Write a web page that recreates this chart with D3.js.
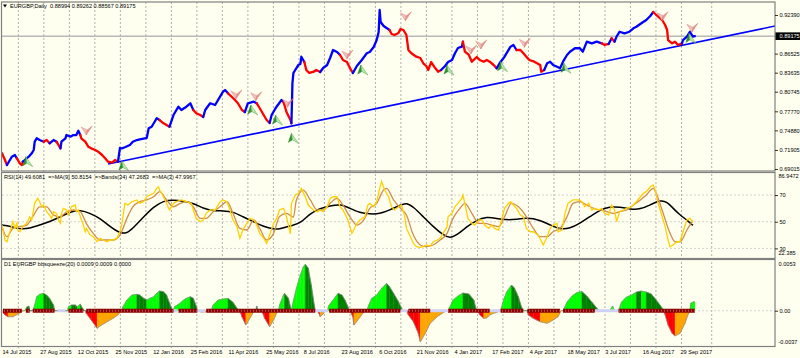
<!DOCTYPE html>
<html><head><meta charset="utf-8">
<script src="https://cdn.jsdelivr.net/npm/d3@7"></script>
<style>
body{margin:0;background:#fffff0;}
svg{display:block;}
text{font-family:"Liberation Sans",Arial,sans-serif;white-space:pre;}
</style></head>
<body><svg id="c" width="800" height="358"></svg>
<script>
// ---------------- DATA ----------------
const symbolTitle = "EURGBP,Daily  0.88994 0.89262 0.88567 0.89175";
const rsiTitle = "RSI(14) 49.6081  =>MA(9) 50.8154  =>Bands(34) 47.2683  =>MA(3) 47.9967";
const sqTitle = "D1 EURGBP bbsqueeze(20) 0.0009 0.0009 0.0000";
const dateLabels = ["14 Jul 2015","27 Aug 2015","12 Oct 2015","25 Nov 2015","12 Jan 2016","25 Feb 2016","11 Apr 2016","25 May 2016","8 Jul 2016","23 Aug 2016","6 Oct 2016","21 Nov 2016","4 Jan 2017","17 Feb 2017","4 Apr 2017","18 May 2017","3 Jul 2017","16 Aug 2017","29 Sep 2017"];
const barsPerLabel = 38;
const priceTicks = [0.92390,0.86525,0.83635,0.80745,0.77770,0.74880,0.71905,0.69015];
const lastPrice = 0.89175;
const rsiTicks = [70,50,30];
const rsiRange = [22.385,86.9472];
const sqRange = [-0.0037,0.0053];

// [bar, close, trend colour]
const priceSeries = [[0,.7140,'r'],[3,.7038,'r'],[5,.6962,'r'],[8,.7038,'b'],[10,.7088,'b'],[13,.7114,'b'],[15,.7064,'b'],[16,.7038,'r'],[18,.6988,'r'],[20,.6962,'r'],[21,.7012,'r'],[23,.7038,'b'],[27,.7088,'b'],[30,.7140,'b'],[32,.7190,'b'],[33,.7316,'b'],[35,.7367,'b'],[38,.7341,'b'],[42,.7316,'b'],[45,.7341,'r'],[48,.7291,'r'],[52,.7341,'b'],[55,.7316,'b'],[59,.7215,'r'],[60,.7316,'b'],[64,.7367,'b'],[65,.7417,'b'],[69,.7392,'b'],[72,.7417,'b'],[75,.7417,'b'],[77,.7483,'b'],[79,.7417,'b'],[80,.7367,'r'],[84,.7316,'r'],[87,.7240,'r'],[90,.7215,'r'],[94,.7190,'r'],[97,.7164,'r'],[101,.7114,'r'],[104,.7064,'r'],[107,.7012,'r'],[111,.6997,'r'],[114,.7038,'r'],[117,.7012,'r'],[119,.7220,'b'],[121,.7215,'b'],[124,.7231,'b'],[129,.7266,'b'],[132,.7316,'b'],[136,.7341,'b'],[139,.7352,'b'],[144,.7367,'b'],[146,.7372,'b'],[148,.7519,'b'],[151,.7543,'b'],[154,.7619,'b'],[156,.7671,'b'],[159,.7645,'b'],[163,.7595,'r'],[166,.7569,'r'],[169,.7543,'r'],[173,.7721,'b'],[178,.7847,'b'],[181,.7797,'b'],[186,.7847,'b'],[190,.7899,'b'],[193,.7797,'b'],[196,.7747,'r'],[200,.7721,'r'],[203,.7691,'r'],[205,.7797,'b'],[210,.7899,'b'],[215,.7873,'b'],[220,.7999,'b'],[223,.8075,'b'],[225,.8100,'b'],[228,.8050,'b'],[232,.7994,'r'],[235,.7949,'r'],[238,.7899,'r'],[242,.7797,'r'],[245,.7766,'r'],[248,.7899,'b'],[254,.7923,'b'],[257,.7899,'b'],[260,.7823,'r'],[264,.7721,'r'],[267,.7645,'r'],[270,.7600,'r'],[272,.7721,'b'],[277,.7847,'b'],[282,.7949,'b'],[284,.7918,'b'],[287,.7766,'r'],[291,.7645,'r'],[292,.7595,'r'],[293,.8202,'b'],[294,.8359,'b'],[297,.8434,'b'],[299,.8480,'b'],[301,.8495,'b'],[302,.8606,'b'],[305,.8525,'b'],[307,.8404,'r'],[310,.8359,'r'],[314,.8374,'r'],[317,.8404,'r'],[321,.8374,'r'],[324,.8434,'b'],[328,.8480,'b'],[331,.8586,'b'],[334,.8708,'b'],[338,.8677,'b'],[341,.8632,'b'],[344,.8556,'r'],[348,.8525,'r'],[351,.8434,'r'],[354,.8359,'r'],[358,.8465,'b'],[363,.8556,'b'],[368,.8658,'b'],[371,.8677,'b'],[375,.8753,'b'],[378,.8859,'b'],[380,.8981,'b'],[381,.9315,'b'],[382,.9133,'b'],[385,.9072,'b'],[388,.9042,'b'],[391,.9011,'b'],[393,.8951,'r'],[396,.8935,'r'],[400,.8966,'r'],[402,.9026,'r'],[405,.9011,'r'],[408,.8935,'r'],[410,.8708,'r'],[413,.8658,'r'],[418,.8606,'r'],[422,.8586,'r'],[425,.8506,'r'],[428,.8465,'r'],[430,.8404,'r'],[433,.8525,'r'],[437,.8434,'r'],[440,.8378,'r'],[443,.8404,'r'],[447,.8465,'b'],[450,.8525,'b'],[454,.8556,'b'],[457,.8658,'b'],[460,.8738,'b'],[464,.8758,'b'],[465,.8834,'b'],[467,.8682,'r'],[471,.8632,'r'],[474,.8530,'r'],[479,.8601,'r'],[482,.8556,'r'],[486,.8530,'r'],[489,.8556,'r'],[492,.8530,'r'],[496,.8480,'r'],[499,.8430,'r'],[502,.8506,'b'],[507,.8606,'b'],[513,.8758,'b'],[516,.8784,'b'],[519,.8708,'b'],[523,.8708,'r'],[526,.8658,'r'],[529,.8606,'r'],[532,.8556,'r'],[537,.8530,'r'],[543,.8480,'r'],[544,.8378,'r'],[547,.8404,'r'],[550,.8506,'b'],[553,.8530,'b'],[556,.8480,'b'],[560,.8454,'b'],[563,.8430,'b'],[566,.8530,'b'],[570,.8632,'b'],[573,.8682,'b'],[578,.8734,'b'],[583,.8734,'b'],[586,.8682,'b'],[590,.8834,'b'],[595,.8809,'b'],[600,.8834,'b'],[605,.8809,'b'],[608,.8784,'r'],[612,.8799,'r'],[615,.8885,'b'],[618,.8834,'r'],[620,.8910,'b'],[623,.8985,'b'],[628,.8961,'b'],[633,.8985,'b'],[637,.9037,'b'],[640,.9061,'b'],[645,.9113,'b'],[650,.9163,'b'],[654,.9224,'b'],[657,.9285,'b'],[659,.9254,'r'],[662,.9213,'r'],[666,.9163,'r'],[669,.9087,'r'],[671,.9011,'r'],[672,.8859,'r'],[676,.8809,'r'],[679,.8834,'r'],[682,.8784,'r'],[686,.8809,'r'],[687,.8859,'b'],[691,.8910,'b'],[694,.8985,'b'],[696,.8935,'b'],[697,.8910,'b'],[699,.89175,'b']];

const trendLine = [[107,0.6977],[780,0.9072]];
const sellSignals = [[86,.7478],[237,.8025],[257,.7999],[289,.7899],[349,.8632],[408,.9213],[474,.8708],[484,.8784],[528,.8809],[667,.9213],[697,.9037]];
const buySignals = [[25,.7012],[122,.6947],[252,.7797],[277,.7645],[293,.7367],[363,.8404],[450,.8404],[504,.8454],[568,.8430],[694,.8885]];

const rsi14 = [[0,47.5],[3,36.3],[5,35.0],[8,42.5],[11,50.0],[13,45.3],[15,49.0],[16,43.8],[18,42.5],[21,46.3],[25,48.8],[28,53.7],[30,51.3],[33,63.8],[36,67.5],[38,65.0],[40,61.2],[42,62.5],[45,57.5],[48,55.0],[50,52.5],[52,57.5],[55,56.3],[57,51.3],[59,48.8],[60,56.3],[62,60.0],[65,58.8],[67,55.0],[70,61.2],[74,62.5],[75,57.5],[77,58.8],[79,53.7],[82,47.5],[84,42.5],[85,45.0],[89,40.0],[92,38.8],[96,35.0],[99,37.6],[102,36.3],[106,35.0],[109,36.3],[112,36.3],[116,37.6],[119,42.5],[121,48.8],[124,63.8],[127,62.5],[131,65.0],[136,66.3],[139,63.8],[143,65.0],[146,68.7],[149,70.0],[153,71.3],[156,75.0],[158,76.2],[159,73.7],[163,68.7],[166,63.8],[169,58.8],[173,63.8],[176,65.0],[181,66.3],[186,65.0],[191,63.8],[193,58.8],[196,52.5],[200,50.0],[203,51.3],[206,56.3],[210,58.8],[215,58.8],[220,65.0],[223,66.3],[227,65.0],[230,58.8],[233,51.3],[237,46.3],[240,37.6],[243,43.8],[247,48.8],[250,52.5],[254,51.3],[257,47.5],[260,41.3],[264,37.6],[267,33.8],[270,40.0],[274,48.8],[277,52.5],[280,58.8],[284,60.0],[287,53.7],[291,41.0],[292,63.8],[296,70.0],[299,71.3],[302,75.0],[306,68.7],[309,62.5],[314,58.8],[318,57.5],[321,58.8],[324,57.5],[328,61.2],[331,67.5],[334,68.7],[338,68.7],[341,61.2],[344,58.8],[349,51.3],[353,41.3],[354,42.5],[358,48.8],[361,51.3],[366,53.7],[369,62.5],[371,63.8],[375,61.2],[378,65.0],[381,75.0],[383,80.0],[386,73.7],[390,68.7],[393,61.2],[396,58.8],[400,61.2],[403,62.5],[406,55.0],[408,45.0],[412,38.8],[415,33.8],[418,31.3],[422,30.8],[425,31.3],[428,32.6],[432,31.8],[435,35.0],[439,36.3],[442,37.6],[445,41.3],[449,46.3],[450,53.7],[454,56.3],[457,61.2],[460,63.8],[464,67.5],[465,70.0],[467,63.8],[470,52.5],[474,48.8],[477,47.5],[481,51.3],[484,51.3],[487,47.5],[491,45.0],[494,47.5],[497,45.0],[501,43.8],[504,51.3],[507,60.0],[511,63.8],[513,65.0],[516,62.5],[519,60.0],[523,55.0],[526,53.7],[529,45.0],[533,42.5],[536,42.5],[541,40.0],[546,32.6],[550,38.8],[553,45.0],[556,47.5],[560,48.8],[561,42.5],[565,43.8],[568,56.3],[571,63.8],[576,66.3],[582,66.3],[585,65.0],[588,61.2],[592,63.8],[595,58.8],[598,60.0],[602,58.8],[605,60.0],[608,56.3],[612,55.0],[615,62.5],[618,58.8],[620,50.0],[623,57.5],[627,58.8],[630,60.0],[635,61.2],[640,65.0],[644,68.7],[647,71.3],[650,72.5],[654,76.2],[657,77.5],[659,73.7],[662,63.8],[666,53.7],[669,46.3],[672,36.3],[674,31.3],[677,32.6],[681,35.0],[684,35.0],[687,42.5],[691,51.3],[694,52.5],[697,49.6]];

const rsiMA9 = [[0,46.3],[5,38.8],[11,45.0],[18,46.3],[25,47.5],[32,55.0],[38,61.2],[45,61.2],[52,55.0],[59,53.7],[65,57.5],[72,58.8],[79,57.5],[85,48.8],[92,41.3],[99,36.3],[106,36.3],[112,36.3],[119,40.0],[126,52.5],[132,61.2],[139,65.0],[146,66.3],[153,68.7],[159,72.5],[166,66.3],[173,61.2],[180,63.8],[186,65.0],[193,61.2],[200,52.5],[206,52.5],[213,57.5],[220,61.2],[227,65.0],[233,56.3],[240,45.0],[247,43.8],[254,51.3],[260,45.0],[267,36.3],[274,41.3],[280,54.0],[287,56.3],[294,53.5],[297,66.3],[304,73.7],[311,66.3],[318,58.8],[324,58.8],[331,63.8],[338,67.5],[344,62.5],[351,53.7],[358,47.5],[365,51.3],[371,60.0],[378,63.8],[385,73.7],[388,75.0],[395,66.3],[402,60.0],[408,55.0],[415,40.0],[422,32.6],[428,31.3],[435,32.6],[442,36.3],[449,41.3],[455,52.5],[462,60.0],[467,63.8],[474,56.3],[481,48.8],[487,48.8],[494,47.5],[501,46.3],[507,53.7],[514,63.8],[521,61.2],[528,55.0],[536,45.0],[543,38.8],[550,38.8],[556,42.5],[563,45.0],[570,53.7],[576,63.8],[583,65.0],[590,62.5],[597,60.0],[603,58.8],[610,57.5],[617,56.3],[623,57.5],[630,58.8],[637,62.5],[644,66.3],[650,70.0],[657,75.0],[660,71.3],[667,56.3],[674,41.3],[679,35.0],[684,35.0],[691,43.8],[697,50.8]];

const rsiBands34 = [[0,47.5],[8,46.8],[18,44.3],[28,45.0],[38,47.5],[48,50.0],[59,53.7],[69,57.5],[79,58.8],[89,56.3],[99,52.5],[109,46.3],[119,41.3],[126,41.3],[132,45.0],[143,53.7],[153,61.2],[163,65.7],[173,66.3],[183,65.5],[193,63.8],[203,60.0],[213,58.2],[223,58.2],[233,57.5],[243,53.7],[254,50.0],[264,46.3],[274,44.3],[280,44.5],[294,47.5],[301,48.8],[311,56.3],[321,60.0],[331,61.8],[341,63.3],[351,60.0],[361,56.7],[371,55.8],[381,55.8],[391,58.8],[402,62.5],[408,64.2],[415,61.2],[425,53.7],[435,46.3],[445,40.0],[452,37.6],[459,40.0],[469,46.3],[479,51.3],[489,53.7],[499,52.5],[509,51.3],[519,51.8],[529,53.0],[543,51.3],[553,47.5],[563,44.3],[573,45.0],[583,48.8],[593,53.7],[603,58.8],[613,61.2],[623,61.2],[634,59.3],[644,59.3],[654,62.5],[664,66.3],[671,65.0],[677,60.0],[684,55.0],[691,51.3],[697,47.3]];

// [bar, momentum, colour: L lime, G green, R red, O orange]
const sqHist = [[1,-0.0002,'R'],[3,-0.00044,'R'],[6,-0.00062,'R'],[11,-0.00062,'O'],[16,-0.00034,'O'],[20,-0.0001,'O'],[21,0,'O'],
[23,0,'L'],[25,0.00038,'L'],[27,0.00049,'G'],[28,0,'G'],
[31,0,'L'],[33,0.00059,'L'],[35,0.00145,'L'],[38,0.0017,'L'],[42,0.0018,'L'],[45,0.00162,'G'],[48,0.00128,'G'],[52,0.00059,'G'],[53,0,'G'],
[66,0,'L'],[67,0.00041,'L'],[70,0.00059,'L'],[74,0.00059,'G'],[76,0.00041,'G'],[79,0.00069,'L'],[81,0.00028,'G'],[83,0,'G'],
[84,0,'R'],[85,-0.00027,'R'],[90,-0.00096,'R'],[96,-0.00182,'R'],[99,-0.00158,'O'],[106,-0.00114,'O'],[112,-0.00079,'O'],[117,-0.00044,'O'],[120,0,'O'],
[121,0,'L'],[122,0.00041,'L'],[126,0.00111,'L'],[131,0.00162,'L'],[136,0.0017,'L'],[139,0.00162,'G'],[143,0.00128,'G'],[146,0.00111,'G'],[149,0.00128,'L'],[153,0.00145,'L'],[156,0.0018,'L'],[159,0.00204,'L'],[163,0.00196,'G'],[166,0.00162,'G'],[169,0.0008,'G'],[172,0,'G'],
[173,0,'L'],[174,0.00041,'L'],[180,0.0008,'L'],[183,0.00111,'L'],[186,0.00128,'L'],[190,0.00145,'L'],[193,0.00128,'G'],[196,0.00049,'G'],[197,0,'G'],
[199,0,'O'],[200,-0.00013,'O'],[205,-0.00013,'O'],[208,0,'O'],
[211,0,'L'],[213,0.00059,'L'],[218,0.00111,'L'],[223,0.00121,'L'],[228,0.00128,'L'],[233,0.00087,'G'],[237,0.00028,'G'],[238,0,'G'],
[240,0,'R'],[242,-0.00062,'R'],[246,-0.00148,'R'],[248,-0.00114,'O'],[252,-0.00044,'O'],[254,0,'O'],
[256,0,'G'],[257,0.00049,'G'],[258,0,'G'],
[262,0,'R'],[265,-0.00079,'R'],[270,-0.00166,'R'],[274,-0.00096,'O'],[277,-0.00027,'O'],[278,0,'O'],
[279,0,'L'],[280,0.00059,'L'],[284,0.00162,'L'],[285,0.0018,'L'],[289,0.00128,'G'],[291,0.00038,'G'],[292,0,'G'],
[293,0.00059,'L'],[297,0.00232,'L'],[301,0.00369,'L'],[304,0.00455,'L'],[306,0.0048,'L'],[309,0.00439,'G'],[312,0.00266,'G'],[315,0.00059,'G'],[316,0,'G'],
[318,0,'R'],[320,-0.00034,'R'],[321,-0.00062,'R'],[324,-0.00034,'O'],[326,0,'O'],
[328,0,'L'],[330,0.00059,'L'],[334,0.00111,'L'],[339,0.0018,'L'],[343,0.00162,'G'],[346,0.00111,'G'],[349,0.00041,'G'],[350,0,'G'],
[351,0,'R'],[354,-0.00065,'R'],[355,-0.00148,'R'],[359,-0.00096,'O'],[364,-0.00027,'O'],[366,0,'O'],
[368,0,'L'],[370,0.00059,'L'],[373,0.00128,'L'],[378,0.00162,'L'],[383,0.00232,'L'],[388,0.00283,'L'],[391,0.00248,'G'],[395,0.0018,'G'],[400,0.00093,'G'],[403,0.00028,'G'],[405,0,'G'],
[408,0,'R'],[410,-0.00044,'R'],[415,-0.00114,'R'],[420,-0.00234,'R'],[422,-0.00321,'R'],[427,-0.00234,'O'],[432,-0.0013,'O'],[439,-0.00062,'O'],[445,-0.0002,'O'],[449,0,'O'],
[450,0,'L'],[452,0.00041,'L'],[455,0.00111,'L'],[460,0.00152,'L'],[465,0.00183,'L'],[471,0.00173,'G'],[476,0.00111,'G'],[478,0.00028,'G'],[479,0,'G'],
[480,0,'R'],[482,-0.00044,'R'],[486,-0.00079,'R'],[489,-0.00076,'O'],[492,-0.00044,'O'],[496,-0.00027,'O'],[500,-0.00013,'O'],[502,0,'O'],
[503,0,'L'],[506,0.00111,'L'],[509,0.00193,'L'],[514,0.00266,'L'],[517,0.00235,'G'],[521,0.00142,'G'],[524,0.00041,'G'],[526,0,'G'],
[530,0,'R'],[531,-0.00044,'R'],[536,-0.00079,'R'],[543,-0.00114,'R'],[550,-0.0013,'O'],[556,-0.00096,'O'],[561,-0.00062,'O'],[564,0,'O'],
[566,0,'L'],[570,0.0009,'L'],[575,0.00152,'L'],[580,0.00188,'L'],[585,0.00199,'L'],[590,0.00152,'G'],[595,0.0009,'G'],[600,0.00028,'G'],[602,0,'G'],
[613,0,'L'],[616,0.00049,'L'],[618,0,'L'],
[622,0,'L'],[625,0.0009,'L'],[630,0.00142,'L'],[635,0.00162,'L'],[640,0.00193,'L'],[645,0.00204,'G'],[650,0.00193,'L'],[655,0.00173,'G'],[660,0.00111,'G'],[666,0.00028,'G'],[667,0,'G'],
[668,0,'R'],[669,-0.00044,'R'],[672,-0.00148,'R'],[676,-0.00234,'R'],[679,-0.00262,'R'],[684,-0.00234,'O'],[689,-0.0013,'O'],[692,-0.00044,'O'],[694,0,'O'],
[695,0.0008,'L'],[698,0.00093,'L'],[699,0.0009,'L']];

const squeezeOn = [[1,20],[24,28],[31,53],[67,82],[85,173],[178,197],[206,316],[330,402],[410,432],[450,492],[503,526],[530,563],[566,598],[622,699]];
const squeezeOff = [[56,64],[172,177],[197,205],[316,329],[402,409],[432,450],[492,503],[598,622]];

// ---------------- LAYOUT ----------------
const svg = d3.select('#c');
const PL = 2, PR = 775;
const P = {main:[2,171], rsi:[172.5,258.5], sq:[259.5,346.5]};
const C = {bg:'#fffff0', frame:'#808080', grid:'#9a9a9a', blue:'#0000ff', red:'#ff0000',
  L:'#00ff00', G:'#008000', R:'#ff0000', O:'#ffa500'};
const FS = 5.6;

const x = d3.scaleLinear().domain([0, barsPerLabel*(dateLabels.length-1)]).range([2, 680]);
const yMain = d3.scaleLinear().domain([0.68711, 0.94363]).range([171, 2]);
const yRsi = d3.scaleLinear().domain(rsiRange).range([258.6, 172.4]);
const ySq = d3.scaleLinear().domain(sqRange).range([346.5, 259.5]);

svg.append('rect').attr('width',800).attr('height',358).attr('fill',C.bg);

const defs = svg.append('defs');
Object.entries(P).forEach(([k,[t,b]])=>{
  defs.append('clipPath').attr('id','clip-'+k).append('rect')
    .attr('x',PL).attr('y',t).attr('width',PR-PL).attr('height',b-t);
});
const pat = defs.append('pattern').attr('id','sqdots').attr('patternUnits','userSpaceOnUse')
  .attr('width',3).attr('height',4).attr('y',ySq(0)-2);
pat.append('rect').attr('width',3).attr('height',4).attr('fill','#8b0000');
pat.append('rect').attr('x',1).attr('y',1.5).attr('width',1).attr('height',1).attr('fill','#e8a0a0');

// vertical grid (every ~25.7 bars) + last one
const gridBars = d3.range(0,27).map(k=>16.5+25.73*k).concat([716]);
svg.append('g').selectAll('line').data(gridBars).join('line')
  .attr('x1',d=>x(d)).attr('x2',d=>x(d)).attr('y1',2).attr('y2',349)
  .attr('stroke',C.grid).attr('stroke-width',0.8).attr('stroke-dasharray','2,2');

// RSI levels
svg.append('g').selectAll('line').data(rsiTicks).join('line')
  .attr('x1',PL).attr('x2',PR).attr('y1',d=>yRsi(d)).attr('y2',d=>yRsi(d))
  .attr('stroke','#c8c8c8').attr('stroke-width',0.8).attr('stroke-dasharray','2,2');
// squeeze zero level
svg.append('line').attr('x1',PL).attr('x2',PR).attr('y1',ySq(0)).attr('y2',ySq(0))
  .attr('stroke','#c8c8c8').attr('stroke-width',0.8).attr('stroke-dasharray','2,2');

// ---------------- MAIN PANEL ----------------
const gMain = svg.append('g').attr('clip-path','url(#clip-main)');
gMain.append('line').attr('x1',PL).attr('x2',PR).attr('y1',yMain(lastPrice)).attr('y2',yMain(lastPrice))
  .attr('stroke','#b8b8b8').attr('stroke-width',1.4);
gMain.append('line').attr('x1',x(trendLine[0][0])).attr('y1',yMain(trendLine[0][1]))
  .attr('x2',x(trendLine[1][0])).attr('y2',yMain(trendLine[1][1]))
  .attr('stroke',C.blue).attr('stroke-width',1.6);
const runs = [];
priceSeries.forEach((d,i)=>{
  const c = d[2];
  if(!runs.length || runs[runs.length-1].c!==c){
    runs.push({c, pts: i>0 ? [priceSeries[i-1]] : []});
  }
  runs[runs.length-1].pts.push(d);
});
const pLine = d3.line().x(d=>x(d[0])).y(d=>yMain(d[1]));
gMain.selectAll('path.pr').data(runs).join('path').attr('class','pr')
  .attr('d',d=>pLine(d.pts)).attr('fill','none')
  .attr('stroke',d=>d.c==='b'?C.blue:C.red).attr('stroke-width',2.3)
  .attr('stroke-linejoin','round').attr('stroke-linecap','round');

const sellG = gMain.append('g').selectAll('g').data(sellSignals).join('g')
  .attr('transform',d=>`translate(${x(d[0])},${yMain(d[1])})`).attr('opacity',0.9);
sellG.append('path').attr('d','M-6,-4 L0,-1 L-1,4 Z').attr('fill','#f3b9b0').attr('stroke','#d88080').attr('stroke-width',0.5);
sellG.append('path').attr('d','M0,-1 L5,-5 L-1,4 Z').attr('fill','#e48c86').attr('stroke','#d07070').attr('stroke-width',0.5);
const buyG = gMain.append('g').selectAll('g').data(buySignals).join('g')
  .attr('transform',d=>`translate(${x(d[0])},${yMain(d[1])})`).attr('opacity',0.95);
buyG.append('path').attr('d','M-1,-5 L-4,4 L0,1.5 Z').attr('fill','#1f8f1f').attr('stroke','#1a7a1a').attr('stroke-width',0.5);
buyG.append('path').attr('d','M-1,-5 L0,1.5 L6,5 Z').attr('fill','#b8e6b0').attr('stroke','#50a050').attr('stroke-width',0.5);

// ---------------- RSI PANEL ----------------
const gRsi = svg.append('g').attr('clip-path','url(#clip-rsi)');
const rLine = d3.line().x(d=>x(d[0])).y(d=>yRsi(d[1]));
gRsi.append('path').attr('d',rLine.curve(d3.curveBasis)(rsiBands34)).attr('fill','none').attr('stroke','#000').attr('stroke-width',1.5);
gRsi.append('path').attr('d',rLine.curve(d3.curveMonotoneX)(rsiMA9)).attr('fill','none').attr('stroke','#d08c4c').attr('stroke-width',1.3);
gRsi.append('path').attr('d',rLine.curve(d3.curveLinear)(rsi14)).attr('fill','none').attr('stroke','#ffd000').attr('stroke-width',1.3);

// ---------------- SQUEEZE PANEL ----------------
const gSq = svg.append('g').attr('clip-path','url(#clip-sq)');
const segs = d3.pairs(sqHist).map(([a,b])=>({a,b,c: b[1]!==0 ? b[2] : a[2]}));
gSq.selectAll('path.h').data(segs).join('path').attr('class','h')
  .attr('d',s=>`M${x(s.a[0])},${ySq(0)}L${x(s.a[0])},${ySq(s.a[1])}L${x(s.b[0])},${ySq(s.b[1])}L${x(s.b[0])},${ySq(0)}Z`)
  .attr('fill',s=>C[s.c]).attr('stroke',s=>C[s.c]).attr('stroke-width',0.4);
gSq.append('path').attr('d',d3.line().x(d=>x(d[0])).y(d=>ySq(d[1]))(sqHist))
  .attr('fill','none').attr('stroke','#8a8a8a').attr('stroke-width',0.7);
gSq.selectAll('rect.off').data(squeezeOff).join('rect').attr('class','off')
  .attr('x',d=>x(d[0])).attr('width',d=>x(d[1])-x(d[0])).attr('y',ySq(0)-1.5).attr('height',3)
  .attr('fill','#d0d0f4');
gSq.selectAll('rect.on').data(squeezeOn).join('rect').attr('class','on')
  .attr('x',d=>x(d[0])).attr('width',d=>x(d[1])-x(d[0])).attr('y',ySq(0)-2).attr('height',4)
  .attr('fill','url(#sqdots)');

// ---------------- FRAMES ----------------
Object.values(P).forEach(([t,b])=>{
  svg.append('rect').attr('x',PL-0.5).attr('y',t).attr('width',PR-PL+0.5).attr('height',b-t)
    .attr('fill','none').attr('stroke',C.frame).attr('stroke-width',1.2);
});

// ---------------- AXES ----------------
function styleAxis(g){
  g.select('.domain').remove();
  g.selectAll('.tick line').attr('stroke','#000').attr('stroke-width',0.8);
  g.selectAll('.tick text').attr('font-size',FS).attr('fill','#000').attr('font-family','"Liberation Sans",Arial,sans-serif');
}
svg.append('g').attr('transform',`translate(${PR},0)`)
  .call(d3.axisRight(yMain).tickValues(priceTicks).tickSize(3).tickPadding(1.5).tickFormat(d=>d.toFixed(5)))
  .call(styleAxis);
svg.append('rect').attr('x',PR+0.5).attr('y',yMain(lastPrice)-3.8).attr('width',24.5).attr('height',7.6).attr('fill','#000');
svg.append('text').attr('x',PR+4.5).attr('y',yMain(lastPrice)).attr('dy','0.35em')
  .attr('font-size',FS).attr('fill','#fff').text(lastPrice.toFixed(5));

svg.append('g').attr('transform',`translate(${PR},0)`)
  .call(d3.axisRight(yRsi).tickValues(rsiTicks).tickSize(3).tickPadding(1.5).tickFormat(d3.format('d')))
  .call(styleAxis);
svg.append('text').attr('x',PR+3.5).attr('y',yRsi(rsiRange[1])+3.8).attr('dy','0.35em').attr('font-size',FS).text(String(rsiRange[1]));
svg.append('text').attr('x',PR+3.5).attr('y',yRsi(rsiRange[0])-5.2).attr('dy','0.35em').attr('font-size',FS).text(String(rsiRange[0]));

svg.append('g').attr('transform',`translate(${PR},0)`)
  .call(d3.axisRight(ySq).tickValues([0]).tickSize(3).tickPadding(1.5).tickFormat(d=>d.toFixed(2)))
  .call(styleAxis);
svg.append('text').attr('x',PR+3.5).attr('y',ySq(sqRange[1])+4.5).attr('dy','0.35em').attr('font-size',FS).text(sqRange[1].toFixed(4));
svg.append('text').attr('x',PR+3.5).attr('y',ySq(sqRange[0])-4.5).attr('dy','0.35em').attr('font-size',FS).text(sqRange[0].toFixed(4));

const dateAxis = svg.append('g').attr('transform',`translate(0,${P.sq[1]})`)
  .call(d3.axisBottom(x).tickValues(dateLabels.map((d,i)=>i*barsPerLabel)).tickSize(0).tickFormat((d,i)=>dateLabels[i]));
dateAxis.select('.domain').remove();
dateAxis.selectAll('.tick text').attr('text-anchor','start').attr('y',3.4).attr('dy','0.71em')
  .attr('font-size',FS).attr('fill','#000');

// ---------------- TITLES ----------------
svg.append('path').attr('d','M3,4.5 L7,4.5 L5,7.5 Z').attr('fill','#000');
svg.append('text').attr('x',10).attr('y',8.2).attr('font-size',FS).attr('fill','#000').text(symbolTitle);
svg.append('text').attr('x',4).attr('y',179.4).attr('font-size',FS).attr('fill','#000').text(rsiTitle);
svg.append('text').attr('x',4).attr('y',266.4).attr('font-size',FS).attr('fill','#000').text(sqTitle);
</script></body></html>
